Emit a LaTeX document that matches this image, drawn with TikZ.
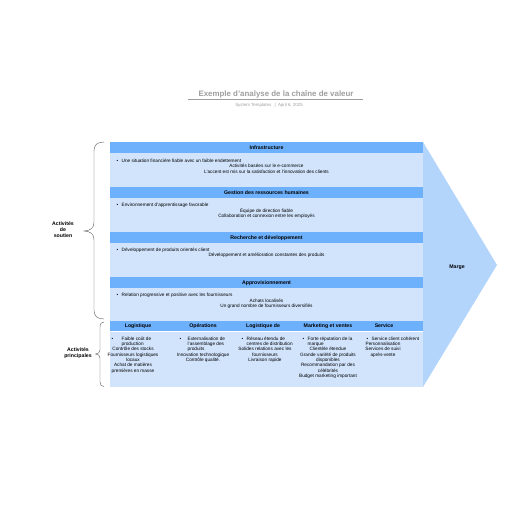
\documentclass[tikz,border=0pt]{standalone}
\usepackage{fontspec}
\setmainfont{Liberation Sans}
\definecolor{hdr}{HTML}{6DB0FB}
\definecolor{bdy}{HTML}{D1E4FC}
\definecolor{arw}{HTML}{B4D5FB}
\definecolor{ttl}{HTML}{9E9E9E}
\definecolor{brc}{HTML}{5A5A5A}
\begin{document}
\begin{tikzpicture}[x=1pt,y=-1pt,
 txt/.style={inner sep=0pt, font=\fontsize{4.7}{5.6}\selectfont, anchor=base},
 ltxt/.style={txt, anchor=base west},
 htxt/.style={inner sep=0pt, font=\fontsize{5.2}{6}\selectfont\bfseries, anchor=base},
 hdrbox/.style={fill=hdr},
 bdybox/.style={fill=bdy},
 bracestyle/.style={draw=brc, line width=0.4pt},
]
\useasboundingbox (0,0) rectangle (516,516);

% title
\node[inner sep=0pt, anchor=base, text=ttl, font=\fontsize{7.9}{9}\selectfont\bfseries] (title) at (276,96.8) {Exemple d'analyse de la chaîne de valeur};
\draw[ttl, line width=0.5pt] (188,99.5) -- (363,99.5);
\node[inner sep=0pt, anchor=base, text=ttl, font=\fontsize{4.4}{5}\selectfont] (subtitle) at (269,106.3) {System Templates \enspace|\enspace April 6, 2025};

% margin arrow
\fill[arw] (423,142) -- (497,265) -- (423,387) -- cycle;
\node[htxt] (marge) at (457,268) {Marge};

% support bands
\fill[hdrbox] (110,142) rectangle (423,153);
\fill[bdybox] (110,153) rectangle (423,187);
\fill[hdrbox] (110,187) rectangle (423,198);
\fill[bdybox] (110,198) rectangle (423,232);
\fill[hdrbox] (110,232) rectangle (423,243);
\fill[bdybox] (110,243) rectangle (423,277);
\fill[hdrbox] (110,277) rectangle (423,288);
\fill[bdybox] (110,288) rectangle (423,321);
% primary
\fill[hdrbox] (110,321) rectangle (423,331);
\fill[bdybox] (110,332) rectangle (423,387);

% Infrastructure
\node[htxt] (h1) at (266.5,149.3) {Infrastructure};
\node[ltxt] (b1) at (116.5,162.5) {•};
\node[ltxt] (s1a) at (121.5,162.5) {Une situation financière fiable avec un faible endettement};
\node[txt] (s1b) at (266.5,167.8) {Activités basées sur le e-commerce};
\node[txt] (s1c) at (266.5,173.2) {L'accent est mis sur la satisfaction et l'innovation des clients};

% GRH
\node[htxt] (h2) at (266.5,194.3) {Gestion des ressources humaines};
\node[ltxt] (b2) at (116.5,206.5) {•};
\node[ltxt] (s2a) at (121.5,206.5) {Environnement d'apprentissage favorable};
\node[txt] (s2b) at (266.5,212) {Équipe de direction fiable};
\node[txt] (s2c) at (266.5,217.5) {Collaboration et connexion entre les employés};

% R&D
\node[htxt] (h3) at (266.5,239.3) {Recherche et développement};
\node[ltxt] (b3) at (116.5,251.5) {•};
\node[ltxt] (s3a) at (121.5,251.5) {Développement de produits orientés client};
\node[txt] (s3b) at (266.5,256.8) {Développement et amélioration constantes des produits};

% Appro
\node[htxt] (h4) at (266.5,284.3) {Approvisionnement};
\node[ltxt] (b4) at (116.5,296.5) {•};
\node[ltxt] (s4a) at (121.5,296.5) {Relation progressive et positive avec les fournisseurs};
\node[txt] (s4b) at (266.5,302) {Achats localisés};
\node[txt] (s4c) at (266.5,307.5) {Un grand nombre de fournisseurs diversifiés};

% primary headers
\node[htxt] (p1) at (138,327.3) {Logistique};
\node[htxt] (p2) at (203,327.3) {Opérations};
\node[htxt] (p3) at (263,327.3) {Logistique de};
\node[htxt] (p4) at (328,327.3) {Marketing et ventes};
\node[htxt] (p5) at (384,327.3) {Service};

% col 1
\node[ltxt] (c1b) at (111.5,340.2) {•};
\foreach \t [count=\k] in {Faible coût de,production}
  \node[ltxt] (c1l\k) at (121.5,{340.2+(\k-1)*5.3}) {\t};
\foreach \t [count=\k] in {Contrôle des stocks,Fournisseurs logistiques,locaux,Achat de matières,premières en masse}
  \node[txt] (c1c\k) at (133,{350.8+(\k-1)*5.3}) {\t};

% col 2
\node[ltxt] (c2b) at (179.5,340.2) {•};
\foreach \t [count=\k] in {Externalisation de,l'assemblage des,produits}
  \node[ltxt] (c2l\k) at (187.5,{340.2+(\k-1)*5.3}) {\t};
\foreach \t [count=\k] in {Innovation technologique,Contrôle qualité.}
  \node[txt] (c2c\k) at (203,{356.1+(\k-1)*5.3}) {\t};

% col 3
\node[ltxt] (c3b) at (241.5,340.2) {•};
\foreach \t [count=\k] in {Réseau étendu de,centres de distribution}
  \node[ltxt] (c3l\k) at (246.5,{340.2+(\k-1)*5.3}) {\t};
\foreach \t [count=\k] in {Solides relations avec les,fournisseurs,Livraison rapide}
  \node[txt] (c3c\k) at (265,{350.8+(\k-1)*5.3}) {\t};

% col 4
\node[ltxt] (c4b) at (302.5,340.2) {•};
\foreach \t [count=\k] in {Forte réputation de la,marque}
  \node[ltxt] (c4l\k) at (307.5,{340.2+(\k-1)*5.3}) {\t};
\foreach \t [count=\k] in {Clientèle étendue,Grande variété de produits,disponibles,Recommandation par des,célébrités,Budget marketing important}
  \node[txt] (c4c\k) at (328,{350.8+(\k-1)*5.3}) {\t};

% col 5
\node[ltxt] (c5b) at (366.5,340.2) {•};
\node[ltxt] (c5l1) at (371.5,340.2) {Service client cohérent};
\foreach \t [count=\k] in {Personnalisation,Services de suivi,après-vente}
  \node[txt] (c5c\k) at (383,{345.5+(\k-1)*5.3}) {\t};

% braces
\draw[bracestyle] (104,142) .. controls (97,142) and (94,145) .. (94,151) -- (94,222) .. controls (94,228) and (91,230.5) .. (84,231) .. controls (91,231.5) and (94,234) .. (94,240) -- (94,310) .. controls (94,316) and (97,319) .. (104,319);
\draw[bracestyle] (104,322) .. controls (101.5,322) and (100,323.5) .. (100,327) -- (100,350) .. controls (100,352.5) and (98.5,353.7) .. (95.5,354) .. controls (98.5,354.3) and (100,355.5) .. (100,358) -- (100,382) .. controls (100,385) and (101.5,386.5) .. (104,386.5);

% labels
\node[htxt] (lsout1) at (63,225.5) {Activités};
\node[htxt] (lsout2) at (63,231.5) {de};
\node[htxt] (lsout3) at (63,237.5) {soutien};
\node[htxt] (lprim1) at (78,351.5) {Activités};
\node[htxt] (lprim2) at (78,357.3) {principales};
\end{tikzpicture}
\end{document}
